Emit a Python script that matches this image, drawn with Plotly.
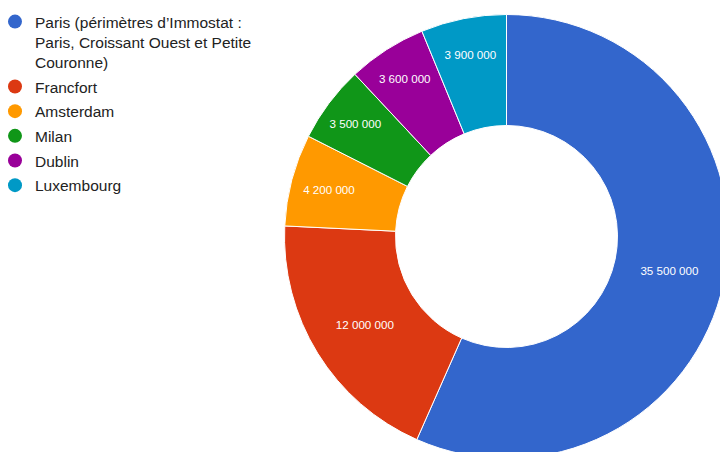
import plotly.graph_objects as go

# ---- data ----
categories = [
    "Paris (périmètres d\u2019Immostat :<br>Paris, Croissant Ouest et Petite<br>Couronne)",
    "Francfort",
    "Amsterdam",
    "Milan",
    "Dublin",
    "Luxembourg",
]
values = [35500000, 12000000, 4200000, 3500000, 3600000, 3900000]
colors = ["#3366cc", "#dc3912", "#ff9900", "#109618", "#990099", "#0099c6"]

labels_txt = [f"{v:,}".replace(",", " ") for v in values]

W, H = 740, 470
FONT = "Arial, 'Liberation Sans', sans-serif"

fig = go.Figure()

fig.add_trace(go.Pie(
    labels=[c.replace("<br>", " ") for c in categories],
    values=values,
    text=labels_txt,
    textinfo="text",
    textposition="inside",
    insidetextorientation="horizontal",
    textfont=dict(color="white", size=11.6, family=FONT),
    hole=0.5,
    sort=False,
    direction="clockwise",
    rotation=0,
    marker=dict(colors=colors, line=dict(color="white", width=1)),
    domain=dict(x=[284.5 / W, 728.5 / W], y=[(H - 458.5) / H, (H - 14.5) / H]),
    showlegend=False,
    hoverinfo="label+value+percent",
))

# legend entries (circle markers)
for i, (cat, col) in enumerate(zip(categories, colors)):
    fig.add_trace(go.Scatter(
        x=[None], y=[None], mode="markers",
        marker=dict(symbol="circle", size=14, color=col),
        name=cat, legendgroup=f"g{i}", showlegend=True,
    ))

fig.update_layout(
    width=W, height=H,
    margin=dict(l=0, r=0, t=0, b=0),
    paper_bgcolor="white", plot_bgcolor="white",
    xaxis=dict(visible=False), yaxis=dict(visible=False),
    font=dict(family=FONT, color="#222222"),
    legend=dict(
        x=0, y=1 - 5 / H, xanchor="left", yanchor="top",
        indentation=-5,
        font=dict(size=15.5, family=FONT, color="#222222"),
        valign="top", traceorder="grouped", tracegroupgap=1.5,
        bgcolor="rgba(0,0,0,0)",
    ),
    showlegend=True,
)

fig.write_html(
    "out.html",
    config={"displayModeBar": False},
    post_script=("document.body.style.margin='0';"
                 "document.body.style.overflow='hidden';"
                 "document.documentElement.style.overflow='hidden';"),
)
